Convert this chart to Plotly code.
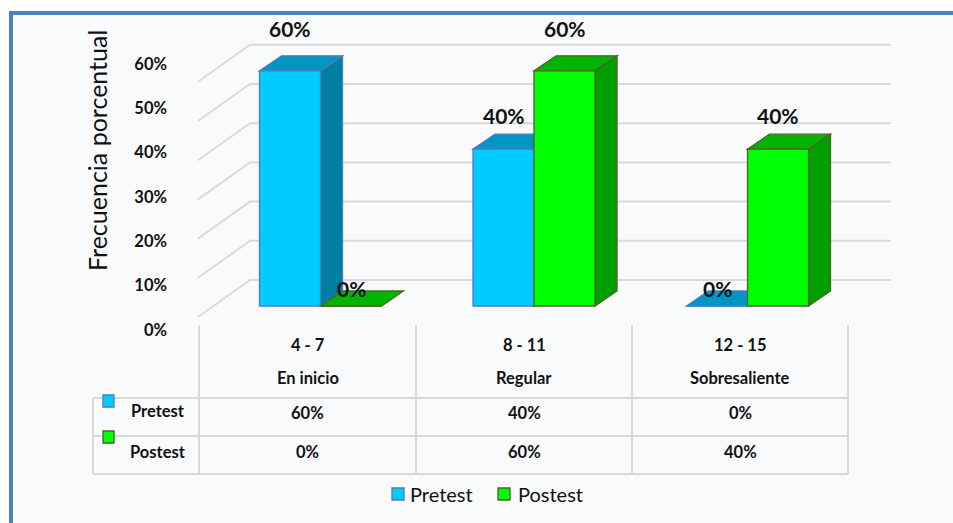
import plotly.graph_objects as go

# ---- data -------------------------------------------------------------
categories = ["4 - 7", "8 - 11", "12 - 15"]
levels = ["En inicio", "Regular", "Sobresaliente"]
pretest = [60, 40, 0]
postest = [0, 60, 40]
y_ticks = [0, 10, 20, 30, 40, 50, 60]

# ---- geometry helpers ---------------------------------------------------
W, H = 953, 523
X0_PX, X_STEP = 320.5, 213.5   # pixel of category 0 centre, pixels per category
Y0_PX, Y_STEP = 306.0, 3.92    # pixel of the 0 % baseline, pixels per percent


def xd(px):
    return (px - X0_PX) / X_STEP


def yd(py):
    return (Y0_PX - py) / Y_STEP


def xp(px):
    return px / W


def yp(py):
    return 1 - py / H


BAR_W = 61 / X_STEP          # front face width (data units)
DX = 22 / X_STEP             # depth offset, x
DY = 15 / Y_STEP             # depth offset, y

FONT = "Lato, 'Open Sans', Arial, sans-serif"
INK = "#111111"

series = [
    dict(name="Pretest", vals=pretest, offset=-BAR_W,
         front="#00CCFF", top="#0096C3", side="#007FA2", line="#4A7EBB"),
    dict(name="Postest", vals=postest, offset=0.0,
         front="#00FF00", top="#00B400", side="#009F00", line="#4F6228"),
]

xs = list(range(len(categories)))

fig = go.Figure()

# front faces of the columns
for s in series:
    fig.add_trace(go.Bar(
        x=xs, y=s["vals"], width=BAR_W, offset=s["offset"],
        marker=dict(color=s["front"], line=dict(color=s["line"], width=1.3)),
        name=s["name"], showlegend=False, hoverinfo="skip",
    ))

# invisible trace that carries the percentage axis on the left
fig.add_trace(go.Scatter(
    x=[xs[0]] * len(y_ticks), y=y_ticks, yaxis="y2", mode="markers",
    marker=dict(opacity=0), showlegend=False, hoverinfo="skip",
))

shapes = []

# chart area background with its blue frame
shapes.append(dict(type="rect", xref="paper", yref="paper", layer="below",
                   x0=xp(11), x1=1.02, y0=-0.02, y1=yp(13),
                   fillcolor="#F9FAFB", line=dict(color="#4F81BD", width=4)))

# data table grid
GRID = "#D9D9D9"
for vx in [199, 416, 632, 848]:
    shapes.append(dict(type="line", xref="paper", yref="paper", layer="below",
                       x0=xp(vx), x1=xp(vx), y0=yp(325), y1=yp(474),
                       line=dict(color=GRID, width=2)))
for hy in [398, 436, 474]:
    shapes.append(dict(type="line", xref="paper", yref="paper", layer="below",
                       x0=xp(93), x1=xp(848), y0=yp(hy), y1=yp(hy),
                       line=dict(color=GRID, width=2)))
shapes.append(dict(type="line", xref="paper", yref="paper", layer="below",
                   x0=xp(93), x1=xp(93), y0=yp(398), y1=yp(474),
                   line=dict(color=GRID, width=2)))

# back wall and side wall gridlines
front_off = yd(317)
back_off = yd(280)
for v in y_ticks:
    path = (f"M {xd(198)},{v + front_off} L {xd(250)},{v + back_off} "
            f"L {xd(891)},{v + back_off}")
    shapes.append(dict(type="path", xref="x", yref="y", layer="below",
                       path=path, line=dict(color=GRID, width=2)))

# top and side faces of the columns
for s in series:
    for i, v in zip(xs, s["vals"]):
        x0 = i + s["offset"]
        x1 = x0 + BAR_W
        if v > 0:
            side = (f"M {x1},0 L {x1},{v} L {x1 + DX},{v + DY} "
                    f"L {x1 + DX},{DY} Z")
            shapes.append(dict(type="path", xref="x", yref="y", layer="below",
                               path=side, fillcolor=s["side"],
                               line=dict(color=s["line"], width=1.3)))
        top = (f"M {x0},{v} L {x1},{v} L {x1 + DX},{v + DY} "
               f"L {x0 + DX},{v + DY} Z")
        shapes.append(dict(type="path", xref="x", yref="y", layer="below",
                           path=top, fillcolor=s["top"],
                           line=dict(color=s["line"], width=1.3)))

annotations = []


def label(x, y, text, size, bold=True, xanchor="center", **kw):
    font = dict(family=FONT, size=size, color=INK)
    if bold:
        font["weight"] = "bold"
    return dict(x=x, y=y, text=text, showarrow=False, xanchor=xanchor,
                yanchor="middle", font=font, **kw)


# value labels above the columns
for s in series:
    for i, v in zip(xs, s["vals"]):
        annotations.append(label(i + s["offset"] + BAR_W / 2, v, f"{v}%", 21,
                                 xref="x", yref="y", yshift=18 + 0.4 * v))

# axis title
annotations.append(label(xp(97), yp(151), "Frecuencia porcentual", 25, bold=False,
                         xref="paper", yref="paper", textangle=-90))

# data table text
col_centres = [307.5, 524, 740]
for cx, cat, lev, pre, post in zip(col_centres, categories, levels, pretest, postest):
    for txt, ty in [(cat, 345), (lev, 378), (f"{pre}%", 413), (f"{post}%", 452)]:
        annotations.append(label(xp(cx), yp(ty), txt, 16.5,
                                 xref="paper", yref="paper"))
for s, ty in zip(series, [411, 452]):
    annotations.append(label(xp(158), yp(ty), s["name"], 16.5,
                             xref="paper", yref="paper"))

# small series keys in the table
for s, (ky0, ky1) in zip(series, [(395, 407), (431, 443)]):
    shapes.append(dict(type="rect", xref="paper", yref="paper",
                       x0=xp(103), x1=xp(114), y0=yp(ky1), y1=yp(ky0),
                       fillcolor=s["front"], line=dict(color=s["line"], width=1.3)))

# legend below the table
for s, kx, tx in zip(series, [392, 498], [408, 516]):
    shapes.append(dict(type="rect", xref="paper", yref="paper",
                       x0=xp(kx), x1=xp(kx + 12), y0=yp(500), y1=yp(488),
                       fillcolor=s["front"], line=dict(color=s["line"], width=1.3)))
    annotations.append(label(xp(tx), yp(494), s["name"], 20, bold=False,
                             xanchor="left", xref="paper", yref="paper"))

# percentage axis scale: 0 % at pixel 330, 60 % at pixel 64
s2 = (330 - 64) / 60
hi2 = 330 / s2
lo2 = hi2 - H / s2

fig.update_layout(
    width=W, height=H,
    margin=dict(l=0, r=0, t=0, b=0, pad=0),
    paper_bgcolor="white",
    plot_bgcolor="rgba(0,0,0,0)",
    barmode="overlay",
    showlegend=False,
    xaxis=dict(range=[xd(0), xd(W)], visible=False, fixedrange=True),
    yaxis=dict(range=[yd(H), yd(0)], visible=False, fixedrange=True),
    yaxis2=dict(
        range=[lo2, hi2], overlaying="y", anchor="free", position=xp(167),
        side="left", showgrid=False, zeroline=False, showline=False,
        ticks="", tickvals=y_ticks, ticktext=[f"{v}%" for v in y_ticks],
        tickfont=dict(family=FONT, size=16.5, color=INK, weight="bold"),
        fixedrange=True,
    ),
    shapes=shapes,
    annotations=annotations,
)

fig.write_html("out.html")
